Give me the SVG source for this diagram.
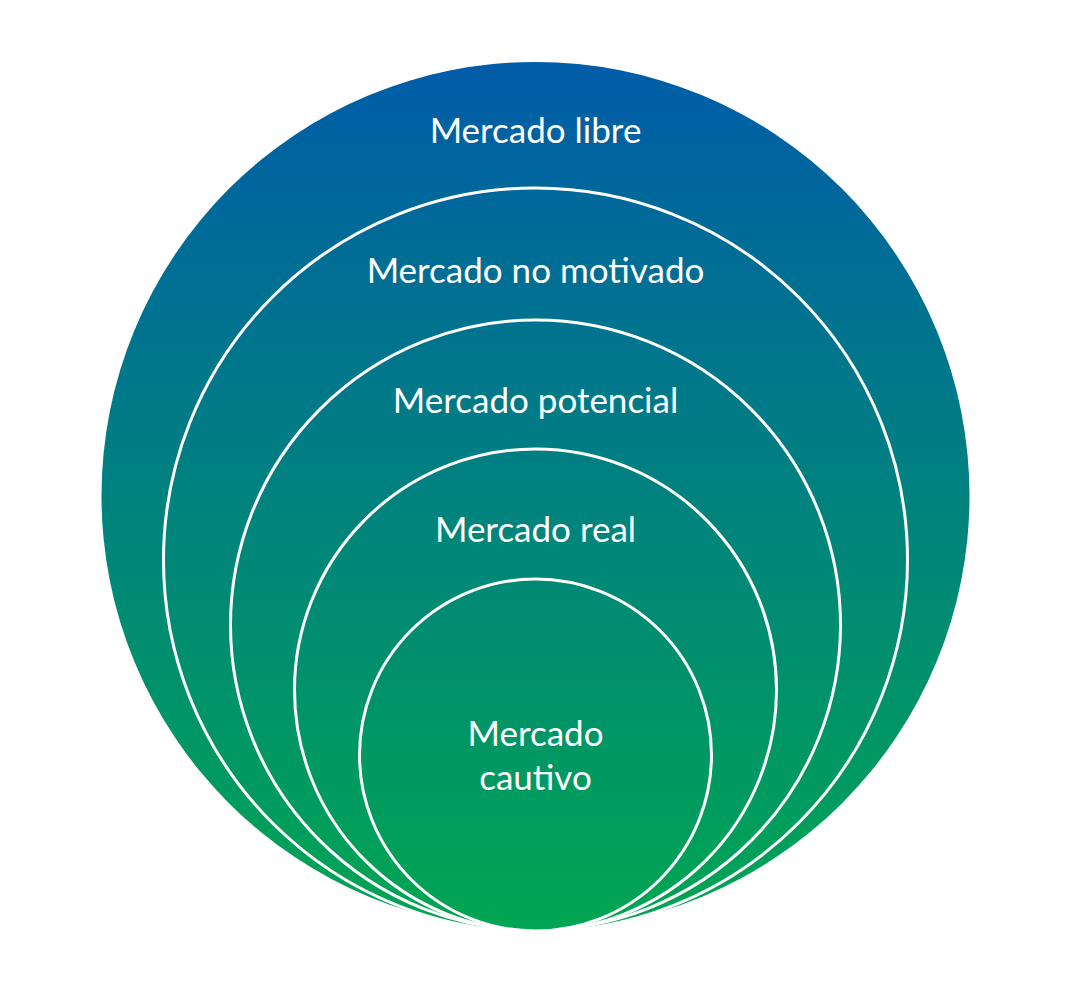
<svg xmlns="http://www.w3.org/2000/svg" width="1066" height="1000" viewBox="0 0 1066 1000">
<defs>
<linearGradient id="g" gradientUnits="userSpaceOnUse" x1="0" y1="62" x2="0" y2="930">
<stop offset="0" stop-color="#005CA8"/>
<stop offset="0.5" stop-color="#00827F"/>
<stop offset="1" stop-color="#00A651"/>
</linearGradient>
<style>
.c{fill:url(#g);stroke:#fff;stroke-width:3}
.o{fill:url(#g);stroke:none}
.t{font-family:Lato,"Open Sans",sans-serif;font-size:35px;fill:#fff;text-anchor:middle}
</style>
</defs>
<rect width="1066" height="1000" fill="#fff"/>
<g id="libre"><circle class="o" cx="535.5" cy="496" r="434"/><text class="t" x="535.5" y="143">Mercado libre</text></g>
<g id="no-motivado"><circle class="c" cx="535.5" cy="560" r="372"/><text class="t" x="535.5" y="283">Mercado no motivado</text></g>
<g id="potencial"><circle class="c" cx="535.5" cy="625" r="305"/><text class="t" x="535.5" y="413">Mercado potencial</text></g>
<g id="real"><circle class="c" cx="535.5" cy="690" r="241"/><text class="t" x="535.5" y="542">Mercado real</text></g>
<g id="cautivo"><circle class="c" cx="535.5" cy="755" r="176"/><text class="t" x="535.5" y="746">Mercado</text><text class="t" x="535.5" y="790">cautivo</text></g>
<g id="connectors"/>
</svg>
